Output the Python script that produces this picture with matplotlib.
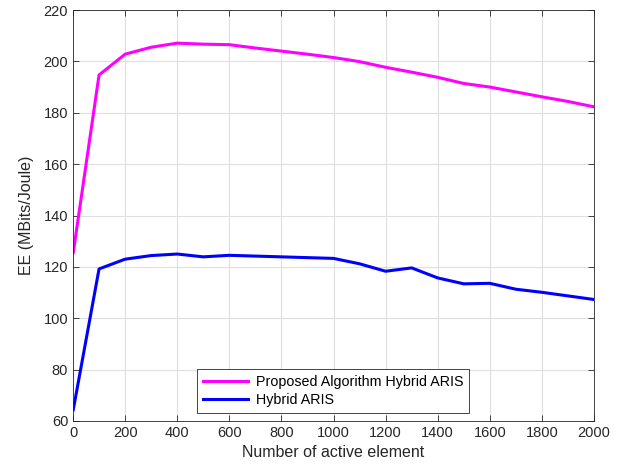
import matplotlib
matplotlib.use("Agg")
import matplotlib.pyplot as plt

plt.rcParams["font.family"] = ["Liberation Sans", "DejaVu Sans"]

# Number of active elements
elements = [1, 100, 200, 300, 400, 500, 600, 700, 800, 900, 1000,
            1100, 1200, 1300, 1400, 1500, 1600, 1700, 1800, 1900, 2000]

# EE (MBits/Joule)
ee_proposed = [125.6, 194.7, 202.8, 205.5, 207.1, 206.7, 206.5, 205.2, 204.0, 202.8, 201.5,
               199.9, 197.7, 195.8, 193.8, 191.4, 190.0, 188.1, 186.2, 184.4, 182.3]
ee_hybrid = [64.4, 119.2, 123.0, 124.4, 125.0, 123.9, 124.5, 124.2, 123.9, 123.6, 123.3,
             121.2, 118.3, 119.6, 115.7, 113.4, 113.6, 111.3, 110.1, 108.7, 107.3]

labels = ["Proposed Algorithm Hybrid ARIS", "Hybrid ARIS"]

fig = plt.figure(figsize=(6.24, 4.74), dpi=100)
ax = fig.add_axes([73 / 624, 1 - 421 / 474, 521 / 624, 411 / 474])

ax.plot(elements, ee_proposed, color="#ff00ff", linewidth=2.2, label=labels[0])
ax.plot(elements, ee_hybrid, color="#0000ff", linewidth=2.2, label=labels[1])

ax.set_xlim(0, 2000)
ax.set_ylim(60, 220)
ax.set_xticks(range(0, 2001, 200))
ax.set_yticks(range(60, 221, 20))
ax.grid(True, color="#dfdfdf", linewidth=0.8)
ax.set_axisbelow(True)
ax.tick_params(direction="in", top=True, right=True, labelsize=10.5,
               colors="#262626", length=4, width=0.6)
for s in ax.spines.values():
    s.set_color("#262626")
    s.set_linewidth(0.6)

ax.set_xlabel("Number of active element", fontsize=11.5, color="#262626")
ax.set_ylabel("EE (MBits/Joule)", fontsize=11.5, color="#262626", labelpad=7)

leg = ax.legend(loc="lower left", bbox_to_anchor=(0.238, 0.019), borderaxespad=0,
                fontsize=10.3, fancybox=False, framealpha=1, edgecolor="#262626",
                handlelength=3.2, handletextpad=0.5, borderpad=0.4, labelspacing=0.3)
leg.get_frame().set_linewidth(0.6)

fig.savefig("out.png", dpi=100)
